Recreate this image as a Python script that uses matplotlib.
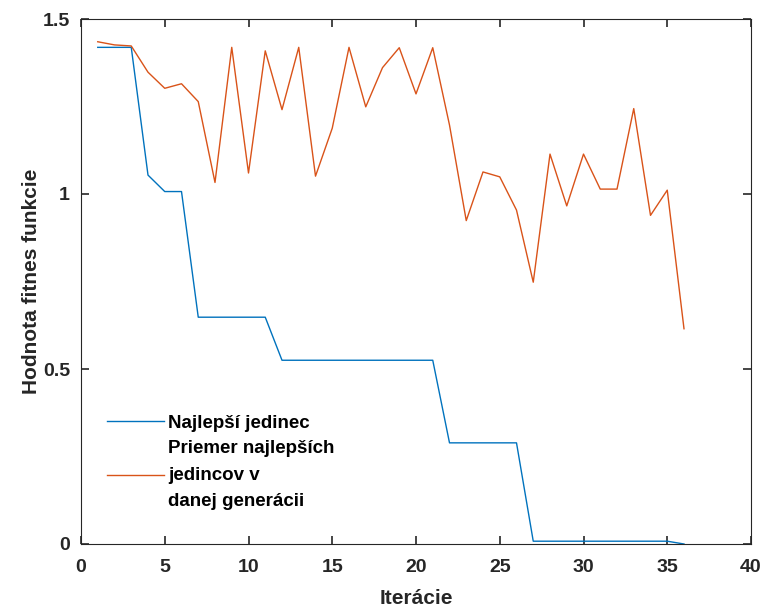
import numpy as np
import matplotlib
matplotlib.use('Agg')
import matplotlib.pyplot as plt
from matplotlib import rc

rc("font", family=['Liberation Sans', 'DejaVu Sans'], weight='bold')

# data
iterations = list(range(1, 37))
best = [1.419, 1.419, 1.419, 1.054, 1.007, 1.007, 0.648, 0.648, 0.648, 0.648,
        0.648, 0.525, 0.525, 0.525, 0.525, 0.525, 0.525, 0.525, 0.525, 0.525,
        0.525, 0.289, 0.289, 0.289, 0.289, 0.289, 0.008, 0.008, 0.008, 0.008,
        0.008, 0.008, 0.008, 0.008, 0.008, 0.0]
mean_best = [1.435, 1.426, 1.423, 1.348, 1.302, 1.315, 1.264, 1.033, 1.419, 1.060,
             1.409, 1.241, 1.419, 1.051, 1.188, 1.419, 1.249, 1.361, 1.418, 1.286,
             1.418, 1.197, 0.924, 1.063, 1.049, 0.954, 0.748, 1.114, 0.966, 1.114,
             1.014, 1.014, 1.244, 0.939, 1.011, 0.615]
x_ticks = [0, 5, 10, 15, 20, 25, 30, 35, 40]
y_ticks = [0, 0.5, 1, 1.5]
y_ticklabels = ['0', '0.5', '1', '1.5']
labels = ['Najlepší jedinec', 'Priemer najlepších\njedincov v\ndanej generácii']

fig = plt.figure(figsize=(7.64, 6.07), dpi=100)
ax = fig.add_axes([81 / 764, 1 - 544 / 607, 670 / 764, 525 / 607])

ax.plot(iterations, best, color='#0072BD', lw=1.0, label=labels[0])
ax.plot(iterations, mean_best, color='#D95319', lw=1.0, label=labels[1])

ax.set_xlim(0, 40)
ax.set_ylim(0, 1.5)
ax.set_xticks(x_ticks)
ax.set_xticklabels([str(t) for t in x_ticks])
ax.set_yticks(y_ticks)
ax.set_yticklabels(y_ticklabels)

axcol = '#262626'
for s in ax.spines.values():
    s.set_color(axcol)
    s.set_linewidth(0.8)
ax.tick_params(direction='in', length=6, width=1.2, color=axcol,
               top=True, right=True, labelsize=14, labelcolor=axcol)
ax.tick_params(axis='x', pad=11)
ax.tick_params(axis='y', pad=8)

ax.set_xlabel('Iterácie', fontsize=15, fontweight='bold', color=axcol, labelpad=9)
ax.set_ylabel('Hodnota fitnes funkcie', fontsize=15, fontweight='bold', color=axcol, labelpad=1)

leg = ax.legend(loc='upper left', bbox_to_anchor=(0.014, 0.278), frameon=False,
                fontsize=13.5, handlelength=3.0, handletextpad=0.25, labelspacing=0.45)
for t in leg.get_texts():
    t.set_fontweight('bold')
    t.set_linespacing(1.7)

fig.savefig('out.png', dpi=100)
